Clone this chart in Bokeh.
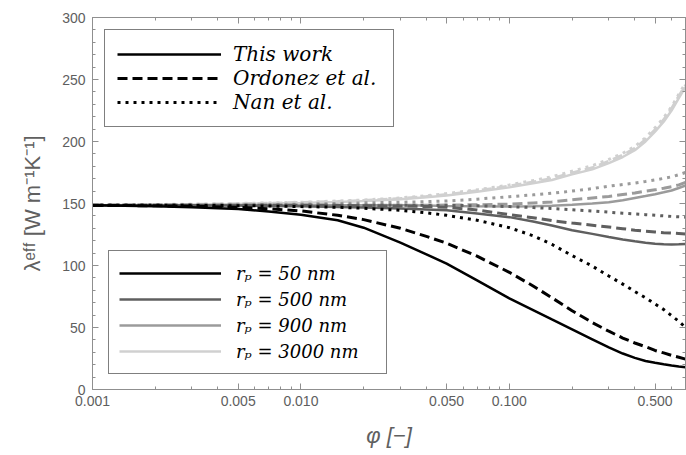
from bokeh.plotting import figure
from bokeh.models import (FixedTicker, LogAxis, LinearAxis, CustomJSTickFormatter,
                          Legend, LegendItem)
from bokeh.embed import file_html
from bokeh.resources import INLINE

# volume fraction
phi = [0.001, 0.002, 0.003, 0.005, 0.007, 0.01, 0.015, 0.02, 0.03, 0.04, 0.05, 0.07, 0.1,
       0.13, 0.16, 0.2, 0.25, 0.3, 0.35, 0.4, 0.45, 0.5, 0.55, 0.6, 0.65, 0.7]

# r_p = 50 nm
this_50 = [148.5, 147.8, 147, 145.5, 143.5, 141, 136.5, 130.5, 118.5, 109, 101.5, 88, 73.5,
           64, 56.5, 48.5, 40.5, 34, 29, 25.5, 23, 21.5, 20.3, 19.3, 18.6, 18]
ordo_50 = [148.5, 148.2, 147.8, 147, 145.8, 144, 140.5, 137, 130, 123.5, 118, 107.5, 94.5,
           83.5, 74, 63.5, 54, 47, 41.5, 37.5, 34.5, 31.5, 29.5, 27.5, 26, 24.5]
nan_50 = [148.5, 148.5, 148.5, 148.2, 148, 147.5, 147, 146.2, 144.5, 142.5, 140.5, 136.5, 130.5,
          124, 117, 108, 99.5, 91.5, 85, 79, 74, 69, 64.5, 59.5, 55, 50]
# r_p = 500 nm
this_500 = [148.5, 148.5, 148.5, 148.3, 148, 147.7, 147.2, 146.8, 146, 145.2, 144.5, 142, 139,
            135.5, 132.3, 128.5, 125.5, 123, 121, 119.5, 118.3, 117.5, 117.1, 117, 117.1, 117.4]
ordo_500 = [148.5, 148.5, 148.5, 148.5, 148.5, 148.5, 148.5, 148.2, 148, 147.6, 147, 144.8, 141,
            138.5, 136.2, 134.2, 132.5, 131, 129.7, 128.5, 127.6, 127, 126.5, 126.1, 125.8, 125.5]
nan_500 = [148.5, 148.5, 148.5, 148.5, 148.5, 148.5, 148.5, 148.5, 148.5, 148.5, 148.5, 148.2, 147.5,
           146.7, 146, 145, 144, 143, 142.2, 141.5, 141, 140.5, 140, 139.6, 139.3, 139]
# r_p = 900 nm
this_900 = [148.5, 148.5, 148.5, 148.5, 148.5, 148.5, 148.5, 148.5, 148.5, 148.3, 148, 147.7, 147.5,
            147.7, 148.2, 149, 150, 151, 152.7, 154.5, 156, 157.5, 159, 160.5, 162.5, 164.5]
ordo_900 = [148.5, 148.5, 148.5, 148.5, 148.5, 148.5, 148.5, 148.5, 148.5, 148.5, 148.7, 149, 149.5,
            150.5, 151.3, 153, 154.5, 155.7, 157.2, 158.5, 160, 161, 162.3, 163.5, 165, 167]
nan_900 = [148.5, 148.6, 148.8, 149, 149.2, 149.5, 150, 150.5, 151, 151.5, 152, 153.5, 155.5,
           157, 158.3, 160, 162, 164, 165.3, 166.5, 167.8, 169, 170.3, 171.5, 173.2, 175]
# r_p = 3000 nm
this_3000 = [148.5, 149, 149.2, 149.6, 150, 150.5, 151.3, 152, 153.5, 155, 156.5, 159.5, 163,
             166.3, 169, 173.5, 177.5, 182.5, 187.5, 193, 200, 208, 216, 225, 235, 244]
ordo_3000 = [148.5, 149, 149.3, 149.8, 150.2, 150.8, 151.6, 152.4, 154, 155.6, 157.2, 160.3, 164,
             167.3, 170.2, 174.7, 178.8, 184, 189, 194.5, 201.5, 209.5, 217.5, 226.5, 236.5, 245.5]
nan_3000 = [148.5, 149.2, 149.5, 150, 150.5, 151, 152, 152.8, 154.5, 156.2, 158, 161, 165,
            168.5, 171.5, 176, 180.5, 185.5, 190.5, 196, 203, 211, 219, 228, 238, 247]

x_major = [0.001, 0.005, 0.01, 0.05, 0.1, 0.5]
x_minor = [0.002, 0.003, 0.004, 0.006, 0.007, 0.008, 0.009,
           0.02, 0.03, 0.04, 0.06, 0.07, 0.08, 0.09,
           0.2, 0.3, 0.4, 0.6, 0.7]
y_major = [0, 50, 100, 150, 200, 250, 300]
y_minor = list(range(0, 301, 10))

model_labels = ["This work", "Ordonez et al.", "Nan et al."]
radius_labels = ["rₚ = 50 nm", "rₚ = 500 nm", "rₚ = 900 nm", "rₚ = 3000 nm"]
colors = ["#000000", "#5f5f5f", "#9b9b9b", "#d0d0d0"]

p = figure(width=686, height=455, x_axis_type="log",
           x_range=(0.001, 0.7), y_range=(0, 300),
           output_backend="svg", toolbar_location=None,
           min_border_left=92, min_border_right=1, min_border_top=17, min_border_bottom=66)
p.xgrid.visible = False
p.ygrid.visible = False
p.outline_line_color = None
p.background_fill_color = "white"
p.border_fill_color = "white"

xt = FixedTicker(ticks=x_major, minor_ticks=x_minor)
yt = FixedTicker(ticks=y_major, minor_ticks=y_minor)

axis_color = "#8f8f8f"
label_color = "#5e5e5e"


def style_axis(ax, show_labels):
    ax.axis_line_color = axis_color
    ax.axis_line_width = 1
    ax.major_tick_line_color = axis_color
    ax.minor_tick_line_color = axis_color
    ax.major_tick_in = 6
    ax.major_tick_out = 0
    ax.minor_tick_in = 3
    ax.minor_tick_out = 0
    if show_labels:
        ax.major_label_text_font = "Liberation Sans"
        ax.major_label_text_font_size = "14px"
        ax.major_label_text_color = label_color
    else:
        ax.formatter = CustomJSTickFormatter(code="return ''")
        ax.major_label_text_font_size = "0px"
        ax.major_label_standoff = 0


xa = p.xaxis[0]
xa.ticker = xt
xa.formatter = CustomJSTickFormatter(code="return tick.toFixed(3)")
style_axis(xa, True)
xa.major_label_standoff = 6
xa.axis_label = "φ [−]"
xa.axis_label_text_font = "Liberation Sans"
xa.axis_label_text_font_size = "22px"
xa.axis_label_text_font_style = "italic"
xa.axis_label_text_color = "#606060"
xa.axis_label_standoff = 14

ya = p.yaxis[0]
ya.ticker = yt
style_axis(ya, True)
ya.major_label_standoff = 7
ya.axis_label = "λᵉᶠᶠ [W m⁻¹K⁻¹]"
ya.axis_label_text_font = "Liberation Sans"
ya.axis_label_text_font_size = "22px"
ya.axis_label_text_font_style = "normal"
ya.axis_label_text_color = "#606060"
ya.axis_label_standoff = 14

top = LogAxis(ticker=xt)
style_axis(top, False)
p.add_layout(top, "above")
right = LinearAxis(ticker=yt)
style_axis(right, False)
p.add_layout(right, "right")

series = [
    (this_3000, ordo_3000, nan_3000),
    (this_900, ordo_900, nan_900),
    (this_500, ordo_500, nan_500),
    (this_50, ordo_50, nan_50),
]
series_colors = [colors[3], colors[2], colors[1], colors[0]]

solid_r = {}
black_r = {}
for (s_this, s_ordo, s_nan), c in zip(series, series_colors):
    r_d = p.line(phi, s_ordo, line_color=c, line_width=3, line_dash="10 5")
    r_n = p.line(phi, s_nan, line_color=c, line_width=3, line_dash="3 5")
    r_s = p.line(phi, s_this, line_color=c, line_width=2.5)
    solid_r[c] = r_s
    if c == "#000000":
        black_r = {"s": r_s, "d": r_d, "n": r_n}


def style_legend(lg, size, gw, gh, lw, pad, sp, standoff):
    lg.label_text_font = "DejaVu Serif"
    lg.label_text_font_style = "italic"
    lg.label_text_font_size = size
    lg.label_text_color = "black"
    lg.glyph_width = gw
    lg.glyph_height = gh
    lg.label_height = gh
    lg.label_width = lw
    lg.padding = pad
    lg.spacing = sp
    lg.margin = 0
    lg.label_standoff = standoff
    lg.border_line_color = "black"
    lg.border_line_width = 1.5
    lg.background_fill_color = "white"
    lg.background_fill_alpha = 1


leg1 = Legend(items=[
    LegendItem(label=model_labels[0], renderers=[black_r["s"]]),
    LegendItem(label=model_labels[1], renderers=[black_r["d"]]),
    LegendItem(label=model_labels[2], renderers=[black_r["n"]]),
], location=(12, 262))
style_legend(leg1, "20px", 104, 22, 148, 12, 0, 12)
p.add_layout(leg1)

leg2 = Legend(items=[
    LegendItem(label=radius_labels[i], renderers=[solid_r[colors[i]]]) for i in range(4)
], location=(16, 15))
style_legend(leg2, "18px", 102, 24, 140, 10, 2, 15)
p.add_layout(leg2)

open("out.html", "w").write(file_html(p, INLINE))
